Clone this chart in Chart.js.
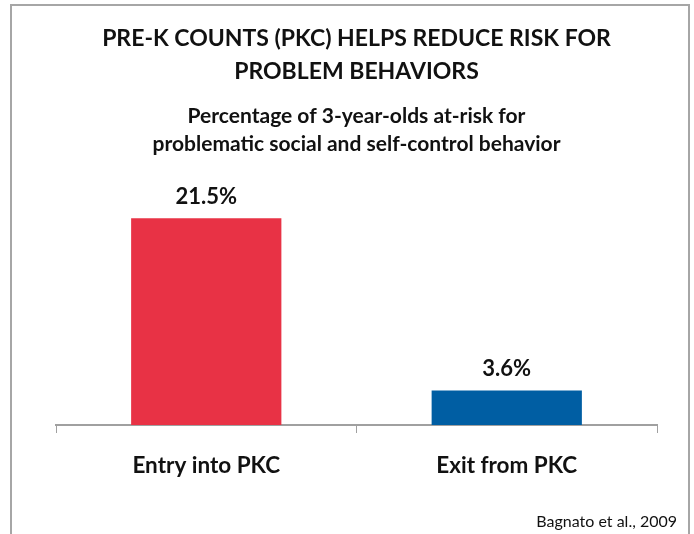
<!DOCTYPE html>
<html>
<head>
<meta charset="utf-8">
<script src="https://cdn.jsdelivr.net/npm/chart.js@4"></script>
<style>
  html, body { margin: 0; padding: 0; background: #fff; }
  #wrap { width: 694px; height: 534px; }
</style>
</head>
<body>
<div id="wrap"><canvas id="myChart" width="694" height="534"></canvas></div>
<script>
var categories = ['Entry into PKC', 'Exit from PKC'];
var atRiskPct = [21.5, 3.6];
var barColors = ['#e83245', '#005ea3'];
var titleLines = ['PRE-K COUNTS (PKC) HELPS REDUCE RISK FOR', 'PROBLEM BEHAVIORS'];
var subtitleLines = ['Percentage of 3-year-olds at-risk for', 'problematic social and self-control behavior'];
var sourceNote = 'Bagnato et al., 2009';

var FONT = 'Lato, "Open Sans", sans-serif';

// frame around the whole slide chart + source text + value labels
var extras = {
    id: 'extras',
    beforeDraw: function(chart) {
        var ctx = chart.ctx;
        ctx.save();
        ctx.fillStyle = '#fff';
        ctx.fillRect(0, 0, chart.width, chart.height);
        ctx.strokeStyle = '#a6a6a6';
        ctx.lineWidth = 2;
        ctx.strokeRect(11, 5, 678, 560);
        ctx.restore();
    },
    afterDatasetsDraw: function(chart) {
        var ctx = chart.ctx;
        var meta = chart.getDatasetMeta(0);
        ctx.save();
        ctx.fillStyle = '#111';
        ctx.font = 'bold 22px ' + FONT;
        ctx.textAlign = 'center';
        ctx.textBaseline = 'alphabetic';
        meta.data.forEach(function(bar, i) {
            ctx.fillText(atRiskPct[i].toFixed(1) + '%', bar.x, bar.y - 14);
        });
        ctx.font = '16px ' + FONT;
        ctx.textAlign = 'right';
        ctx.textBaseline = 'middle';
        ctx.fillText(sourceNote, 677, 522);
        ctx.restore();
    }
};

var ctx = document.getElementById('myChart').getContext('2d');
var myChart = new Chart(ctx, {
    type: 'bar',
    data: {
        labels: categories,
        datasets: [{
            data: atRiskPct,
            backgroundColor: barColors,
            borderWidth: 0,
            categoryPercentage: 1,
            barPercentage: 0.5
        }]
    },
    options: {
        responsive: false,
        animation: false,
        layout: { padding: { top: 0, left: 56, right: 37, bottom: 36 } },
        plugins: {
            legend: { display: false },
            tooltip: { enabled: false },
            title: {
                display: true,
                text: titleLines,
                color: '#111',
                font: { family: FONT, size: 23, weight: 'bold', lineHeight: 1.45 },
                padding: { top: 22, bottom: 8 }
            },
            subtitle: {
                display: true,
                text: subtitleLines,
                color: '#111',
                font: { family: FONT, size: 21, weight: 'bold', lineHeight: 1.33 },
                padding: { top: 6, bottom: 26 }
            }
        },
        scales: {
            y: {
                display: false,
                min: 0,
                max: 25
            },
            x: {
                grid: {
                    offset: true,
                    drawOnChartArea: false,
                    drawTicks: true,
                    tickLength: 8,
                    color: '#a0a0a0'
                },
                border: { display: true, color: '#a0a0a0', width: 2 },
                ticks: {
                    color: '#111',
                    padding: 19,
                    font: { family: FONT, size: 22.5, weight: 'bold' }
                }
            }
        }
    },
    plugins: [extras]
});
</script>
</body>
</html>
